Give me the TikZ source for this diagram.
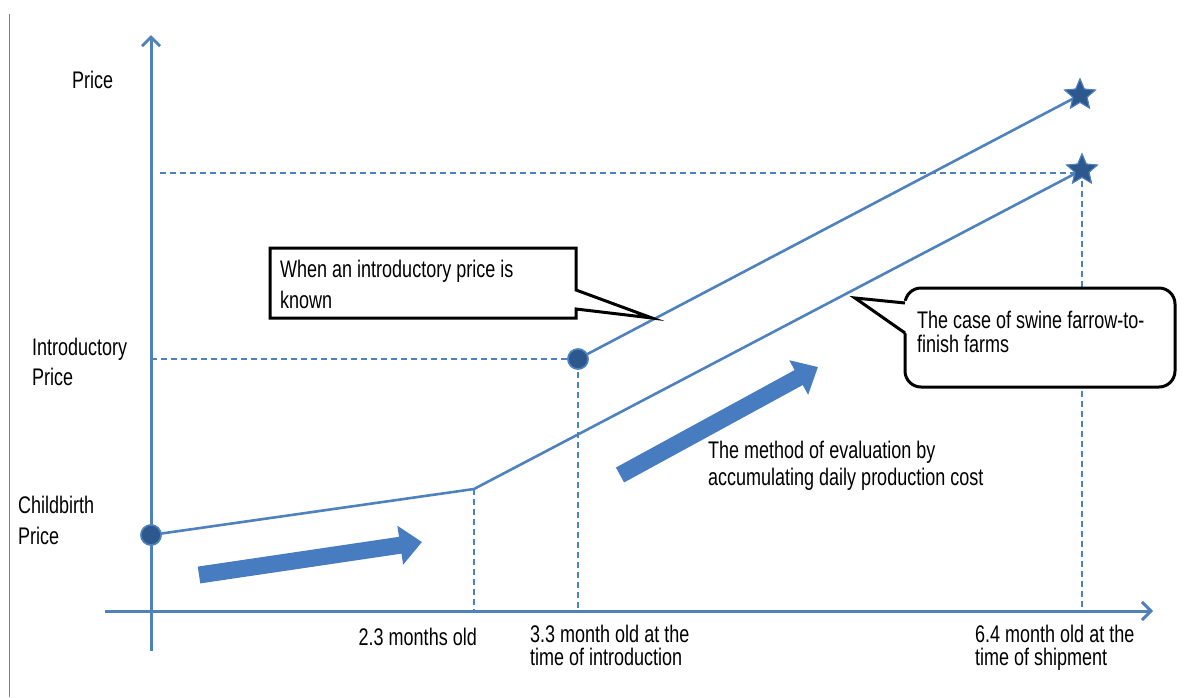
\documentclass[tikz,border=0pt]{standalone}
\usepackage{fontspec}
\setmainfont{Liberation Sans}[FakeStretch=0.75]
\usetikzlibrary{shapes.geometric}
\usetikzlibrary{arrows.meta}
\definecolor{axisblue}{RGB}{79,129,189}
\definecolor{dotblue}{RGB}{44,88,142}
\definecolor{barblue}{RGB}{72,124,192}
\tikzset{
  lbl/.style={inner sep=0pt, anchor=north west, align=left},
  guide/.style={axisblue, line width=1.6pt, dash pattern=on 6pt off 4pt},
  curve/.style={axisblue, line width=2.6pt},
  dot/.style={circle, fill=dotblue, draw=axisblue, line width=1.5pt,
    minimum size=20pt, inner sep=0pt},
  tipstar/.style={star, star points=5, star point ratio=2.2, fill=dotblue,
    draw=axisblue, line width=1pt, minimum size=32pt, inner sep=0pt},
  push/.style={barblue, line width=17pt, -{Triangle[length=22pt,width=38pt]}},
  callout/.style={line width=3pt, line join=miter}
}
\begin{document}
\begin{tikzpicture}[x=1pt,y=-1pt]
\useasboundingbox (0,0) rectangle (1184,697);
\draw[gray, line width=1.2pt] (9.5,14) -- (9.5,697);
% Axes
\coordinate (xstart) at (105,611);
\coordinate (xend) at (1153,611);
\coordinate (ystart) at (151,651);
\coordinate (yend) at (151,35);
\draw[axisblue, line width=3pt, -{Straight Barb[length=9pt,width=18pt]}] (xstart) -- (xend);
\draw[axisblue, line width=3pt, -{Straight Barb[length=9pt,width=18pt]}] (ystart) -- (yend);
% Points of the two price lines
\coordinate (kink) at (474,489);
\coordinate (kinkfoot) at (474,611);
\coordinate (introfoot) at (578,611);
\coordinate (introleft) at (151,359);
\coordinate (shipfoot) at (1082,611);
\coordinate (shipleft) at (160,173);
\coordinate (shipguide) at (1082,173);
% Guide lines
\draw[guide] (shipleft) -- (shipguide) -- (shipfoot);
\draw[guide] (introleft) -- (578,359) -- (introfoot);
\draw[guide] (kink) -- (kinkfoot);
% Price lines
\node[tipstar] (shiptop) at (1080,95) {};
\node[tipstar] (shiplow) at (1082,170) {};
\node[dot] (birth) at (151,535) {};
\node[dot] (intro) at (578,359) {};
\draw[curve] (birth.center) -- (kink) -- (shiplow.center);
\draw[curve] (intro.center) -- (shiptop.center);
\node[tipstar] at (shiptop) {};
\node[tipstar] at (shiplow) {};
\node[dot] at (birth) {};
\node[dot] at (intro) {};
% Block arrows
\coordinate (pushAa) at (199,575);
\coordinate (pushAb) at (422,542);
\coordinate (pushBa) at (620,475);
\coordinate (pushBb) at (818,367);
\draw[push] (pushAa) -- (pushAb);
\draw[push] (pushBa) -- (pushBb);
% Callouts
\draw[callout, fill=white] (270,248) -- (576,248) -- (576,290) -- (652,318)
  -- (576,309) -- (576,318) -- (270,318) -- cycle;
\draw[callout, fill=white, rounded corners=16pt] (905,288) rectangle (1175,387);
\fill[white] (909,301) -- (855,298) -- (909,335) -- cycle;
\draw[callout] (905,303) -- (855,298) -- (905,333);
% Labels
\node[lbl, font=\fontsize{24}{30}\selectfont] (price) at (72,70.5) {Price};
\node[lbl, font=\fontsize{24}{30}\selectfont] (introprice) at (32,337.5) {Introductory\\Price};
\node[lbl, font=\fontsize{24}{31}\selectfont] (birthprice) at (18,495.5) {Childbirth\\Price};
\node[lbl, anchor=north east, font=\fontsize{24}{30}\selectfont] (age23) at (477,627.5) {2.3 months old};
\node[lbl, font=\fontsize{24}{23}\selectfont] (age33) at (530,624.5) {3.3 month old at the\\time of introduction};
\node[lbl, font=\fontsize{24}{23}\selectfont] (age64) at (975,624.5) {6.4 month old at the\\time of shipment};
\node[lbl, font=\fontsize{24}{27}\selectfont] (method) at (708,440.5) {The method of evaluation by\\accumulating daily production cost};
\node[lbl, font=\fontsize{24}{31}\selectfont] (known) at (280,259.5) {When an introductory price is\\known};
\node[lbl, font=\fontsize{24}{24}\selectfont] (farrow) at (917,310.5) {The case of swine farrow-to-\\finish farms};
\end{tikzpicture}
\end{document}
